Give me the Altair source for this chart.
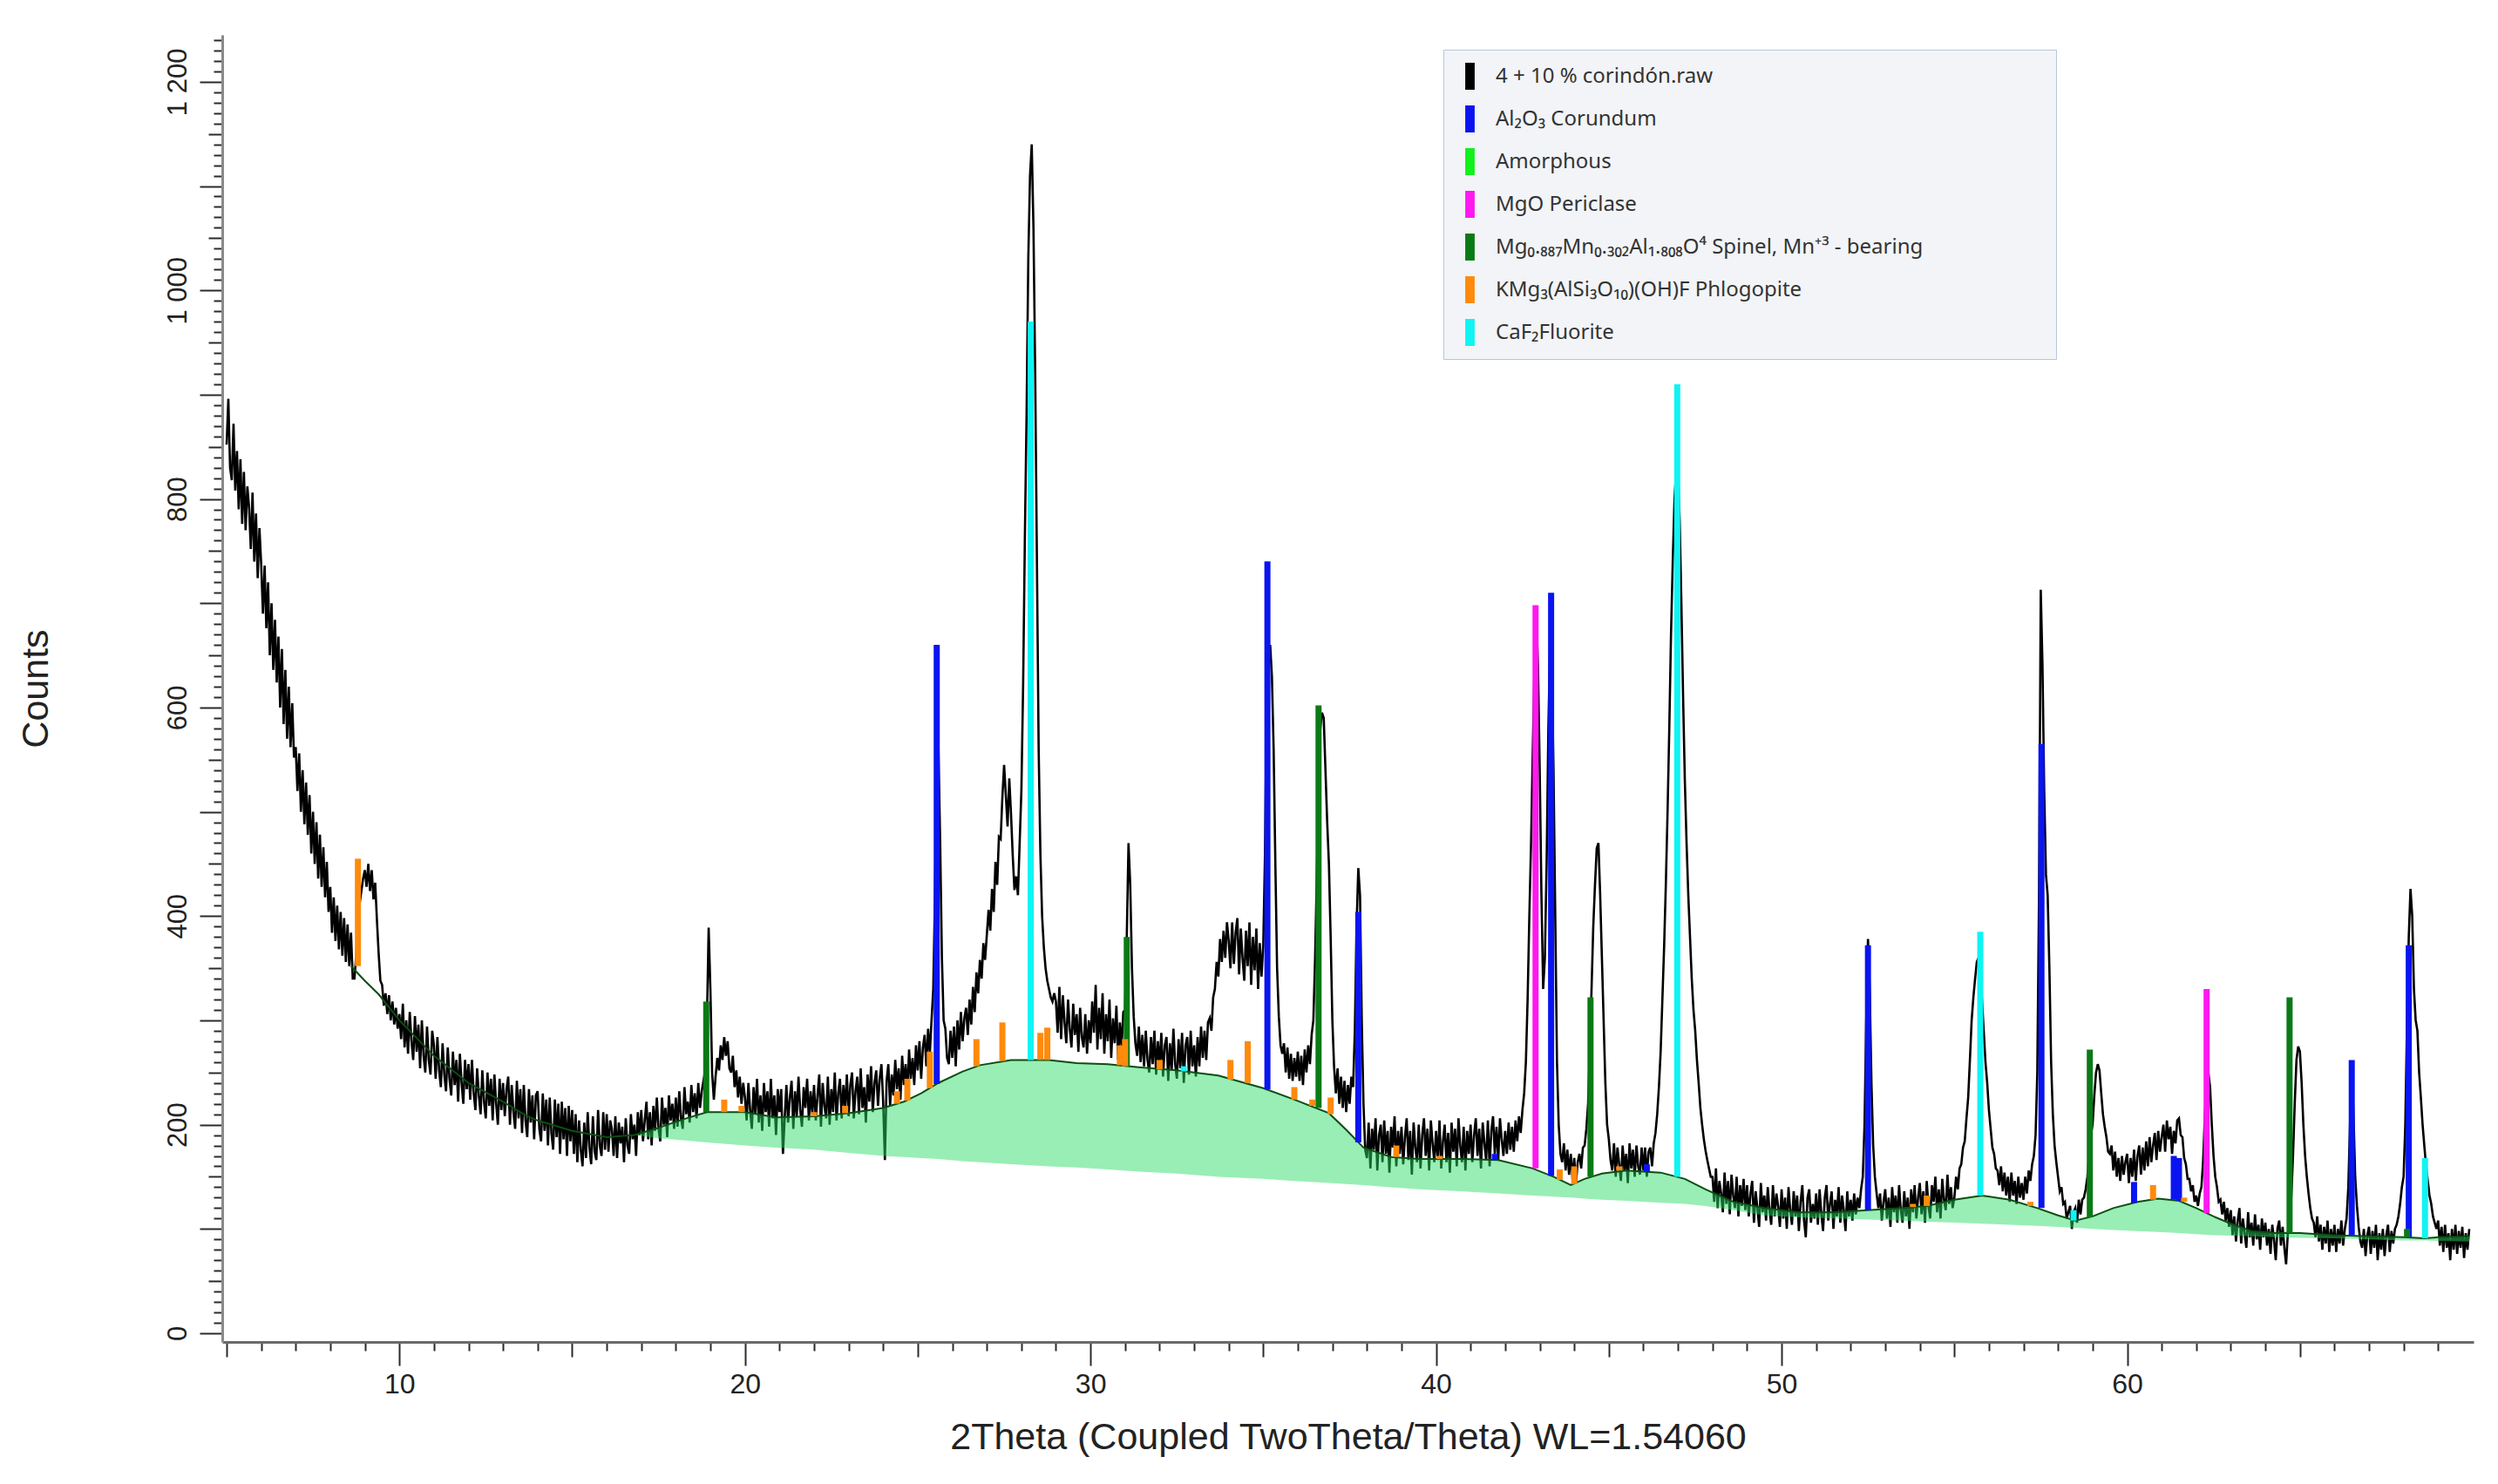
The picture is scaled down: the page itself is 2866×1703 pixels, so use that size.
import altair as alt
import pandas as pd

# ---------------- data ----------------
TT_STEP = 0.05      # scan step (degrees)

# raw counts: one row per degree, values at deg+0.00, +0.05, ... +0.95
raw_rows = {
    5: [852, 896, 830, 818, 872, 808, 846, 790, 838, 776, 826, 770, 812, 792, 752, 806, 740, 786, 724, 772],
    6: [738, 690, 736, 676, 720, 650, 700, 636, 684, 624, 668, 600, 656, 584, 636, 570, 620, 562, 604, 552],
    7: [562, 520, 556, 500, 540, 488, 528, 478, 516, 460, 500, 450, 490, 436, 478, 428, 466, 418, 452, 404],
    8: [428, 384, 418, 376, 410, 368, 404, 362, 398, 356, 392, 352, 384, 340, 340, 362, 394, 412, 424, 436],
    9: [444, 428, 450, 424, 444, 416, 432, 396, 364, 338, 334, 314, 326, 306, 324, 300, 318, 296, 312, 292],
    10: [306, 282, 316, 274, 300, 268, 308, 280, 262, 304, 270, 296, 254, 300, 266, 250, 294, 262, 248, 290],
    11: [276, 244, 284, 252, 236, 278, 248, 232, 274, 244, 228, 270, 238, 262, 222, 268, 240, 220, 262, 234],
    12: [258, 224, 262, 230, 214, 254, 228, 210, 252, 222, 206, 250, 218, 244, 204, 248, 220, 200, 244, 214],
    13: [240, 208, 234, 246, 200, 238, 212, 196, 242, 206, 234, 192, 238, 204, 188, 234, 202, 228, 186, 228],
    14: [232, 196, 184, 230, 194, 224, 180, 226, 192, 176, 224, 188, 220, 172, 222, 186, 216, 170, 218, 184],
    15: [214, 172, 210, 164, 204, 176, 160, 202, 168, 212, 178, 162, 208, 174, 166, 214, 180, 170, 212, 176],
    16: [210, 174, 204, 196, 170, 208, 168, 202, 182, 198, 164, 206, 180, 172, 210, 186, 200, 170, 212, 190],
    17: [214, 184, 204, 222, 186, 212, 180, 218, 194, 226, 196, 184, 226, 200, 216, 188, 228, 204, 220, 196],
    18: [226, 198, 232, 206, 196, 236, 210, 222, 202, 238, 212, 230, 206, 240, 216, 232, 242, 252, 300, 389],
    19: [330, 250, 224, 246, 264, 252, 276, 262, 284, 266, 280, 254, 250, 266, 236, 252, 226, 246, 220, 240],
    20: [226, 204, 240, 214, 196, 236, 210, 244, 202, 228, 194, 240, 212, 232, 198, 244, 206, 228, 190, 234],
    21: [212, 234, 172, 206, 238, 202, 226, 242, 196, 232, 208, 246, 214, 198, 236, 216, 244, 204, 232, 210],
    22: [238, 204, 228, 248, 198, 240, 218, 206, 246, 200, 234, 212, 250, 204, 230, 244, 206, 238, 216, 248],
    23: [208, 238, 250, 206, 232, 246, 210, 254, 216, 236, 202, 248, 222, 256, 212, 240, 252, 218, 244, 258],
    24: [222, 166, 242, 258, 218, 248, 228, 262, 234, 254, 224, 266, 238, 258, 230, 272, 244, 264, 238, 276],
    25: [252, 280, 244, 274, 286, 256, 292, 268, 300, 330, 420, 530, 560, 470, 360, 300, 292, 264, 258, 290],
    26: [264, 294, 256, 300, 272, 308, 280, 302, 312, 286, 320, 296, 332, 308, 346, 326, 358, 340, 374, 358],
    27: [382, 406, 386, 426, 404, 452, 430, 476, 474, 514, 545, 516, 486, 532, 498, 458, 425, 438, 420, 470],
    28: [520, 620, 760, 880, 1030, 1110, 1140, 1060, 920, 740, 560, 460, 400, 370, 350, 338, 330, 322, 318, 326],
    29: [318, 288, 332, 282, 324, 298, 278, 320, 292, 274, 316, 286, 306, 270, 312, 284, 274, 306, 268, 300],
    30: [278, 318, 288, 334, 272, 312, 282, 326, 268, 306, 280, 320, 264, 302, 278, 314, 262, 298, 274, 308],
    31: [310, 380, 470, 430, 350, 304, 278, 266, 294, 260, 286, 256, 290, 262, 250, 284, 258, 290, 248, 280],
    32: [256, 288, 246, 276, 284, 242, 278, 252, 292, 258, 244, 282, 254, 288, 240, 276, 284, 248, 290, 256],
    33: [276, 246, 284, 256, 294, 264, 290, 262, 298, 302, 290, 322, 330, 356, 342, 378, 356, 386, 360, 394],
    34: [376, 350, 394, 354, 384, 398, 344, 388, 360, 338, 386, 352, 394, 334, 380, 348, 388, 330, 374, 342],
    35: [372, 460, 610, 640, 660, 630, 560, 450, 350, 304, 276, 268, 278, 250, 274, 244, 268, 242, 264, 246],
    36: [270, 242, 266, 238, 272, 250, 276, 258, 286, 300, 360, 440, 520, 580, 595, 590, 540, 490, 450, 380],
    37: [300, 255, 230, 254, 220, 246, 216, 242, 212, 238, 220, 246, 236, 290, 390, 446, 420, 300, 220, 176],
    38: [168, 202, 158, 196, 176, 206, 156, 190, 200, 164, 204, 172, 194, 154, 198, 178, 208, 160, 194, 172],
    39: [198, 162, 188, 206, 166, 194, 152, 202, 178, 164, 200, 158, 190, 206, 170, 196, 156, 204, 182, 164],
    40: [194, 166, 204, 158, 184, 200, 164, 192, 154, 202, 174, 196, 160, 206, 180, 164, 198, 156, 194, 172],
    41: [200, 164, 190, 206, 170, 196, 158, 202, 182, 166, 204, 160, 194, 208, 172, 198, 166, 206, 186, 170],
    42: [194, 172, 202, 176, 198, 174, 204, 184, 208, 192, 214, 230, 260, 320, 400, 470, 560, 640, 690, 640],
    43: [540, 420, 330, 360, 450, 580, 660, 630, 540, 400, 260, 200, 172, 164, 182, 156, 176, 152, 172, 148],
    44: [168, 144, 164, 172, 158, 178, 180, 196, 220, 270, 330, 390, 430, 465, 470, 420, 360, 300, 240, 200],
    45: [186, 166, 156, 182, 150, 178, 162, 146, 180, 156, 172, 144, 182, 158, 176, 150, 180, 160, 152, 178],
    46: [156, 178, 150, 174, 178, 160, 182, 192, 210, 236, 270, 320, 370, 430, 500, 580, 670, 740, 800, 826],
    47: [830, 780, 700, 610, 530, 470, 420, 380, 340, 310, 290, 262, 240, 216, 200, 186, 175, 166, 158, 150],
    48: [150, 126, 158, 120, 146, 134, 116, 154, 124, 146, 114, 152, 132, 120, 150, 112, 142, 122, 148, 118],
    49: [142, 112, 134, 146, 106, 136, 120, 102, 144, 116, 132, 108, 140, 118, 104, 142, 112, 134, 122, 102],
    50: [138, 110, 130, 100, 140, 118, 104, 136, 112, 132, 98, 126, 142, 108, 92, 130, 138, 106, 124, 110],
    51: [134, 104, 138, 114, 98, 130, 142, 108, 124, 136, 100, 128, 112, 140, 106, 132, 118, 98, 136, 112],
    52: [128, 108, 134, 114, 130, 120, 138, 150, 200, 300, 378, 330, 240, 180, 150, 134, 120, 134, 108, 126],
    53: [138, 110, 130, 102, 140, 116, 132, 106, 142, 118, 106, 136, 112, 130, 100, 138, 116, 142, 110, 130],
    54: [144, 114, 136, 106, 146, 122, 110, 142, 126, 150, 116, 138, 110, 148, 128, 118, 152, 124, 140, 120],
    55: [130, 150, 138, 158, 162, 178, 184, 206, 226, 262, 300, 322, 340, 356, 360, 352, 320, 290, 260, 240],
    56: [214, 196, 178, 172, 158, 156, 142, 160, 136, 154, 132, 150, 126, 154, 132, 146, 124, 150, 130, 144],
    57: [128, 150, 134, 156, 146, 162, 170, 190, 250, 420, 713, 640, 520, 440, 420, 350, 260, 210, 180, 164],
    58: [150, 136, 140, 124, 126, 110, 116, 122, 100, 116, 120, 106, 128, 114, 128, 130, 138, 150, 170, 190],
    59: [200, 228, 250, 258, 252, 230, 210, 198, 188, 174, 172, 180, 156, 174, 150, 168, 146, 170, 152, 164],
    60: [172, 144, 168, 150, 176, 146, 170, 180, 152, 178, 156, 184, 160, 188, 164, 180, 192, 166, 194, 174],
    61: [188, 200, 174, 204, 186, 198, 172, 194, 182, 204, 206, 190, 188, 168, 162, 148, 148, 136, 142, 126],
    62: [132, 122, 134, 140, 166, 210, 240, 250, 236, 200, 170, 150, 140, 126, 128, 114, 126, 108, 120, 102],
    63: [118, 94, 112, 88, 108, 120, 86, 110, 96, 82, 116, 92, 106, 84, 114, 90, 104, 80, 110, 92],
    64: [106, 84, 100, 76, 104, 90, 70, 100, 108, 84, 102, 82, 66, 96, 106, 130, 170, 220, 262, 275],
    65: [270, 240, 200, 170, 150, 134, 120, 110, 106, 92, 112, 88, 104, 80, 102, 86, 108, 78, 100, 84],
    66: [104, 78, 100, 86, 108, 84, 100, 110, 140, 200, 260, 210, 150, 122, 102, 88, 82, 100, 74, 94],
    67: [102, 76, 98, 82, 104, 70, 96, 80, 100, 74, 94, 104, 78, 98, 86, 100, 104, 112, 124, 140],
    68: [150, 200, 300, 380, 426, 400, 330, 300, 290, 250, 226, 200, 180, 160, 146, 132, 124, 112, 106, 100],
    69: [108, 84, 102, 78, 104, 82, 96, 70, 100, 80, 104, 76, 98, 82, 102, 72, 96, 80, 100],
}
two_theta, raw_counts = [], []
for deg, vals in raw_rows.items():
    for j, v in enumerate(vals):
        two_theta.append(round(deg + TT_STEP * j, 2))
        raw_counts.append(v)

# background line before the amorphous hump
bg_pre_theta = [8.6, 9.0, 9.4, 10.0, 11.0, 12.0, 13.0, 13.65, 14.0, 15.0, 16.0]
bg_pre_counts = [352, 338, 325, 300, 266, 240, 222, 209, 204, 194, 188]

# amorphous contribution (upper = total background, lower = base line)
amor_theta = [16.8, 17.5, 18.2, 18.9, 20.0, 20.9, 22.0, 23.0, 24.0, 24.6, 25.1, 25.6,
              26.3, 26.8, 27.7, 28.8, 29.6, 30.5, 31.4, 32.5, 33.7, 35.0, 35.9, 36.9,
              37.4, 37.9, 38.7, 39.5, 40.8, 41.8, 42.8, 43.4, 43.9, 44.3, 44.8, 45.5,
              46.5, 47.2, 47.8, 48.6, 49.5, 50.5, 51.5, 52.5, 53.5, 54.2, 55.0, 55.8,
              56.6, 57.4, 58.0, 58.5, 59.0, 59.6, 60.3, 60.9, 61.5, 62.0, 62.5, 63.0,
              63.6, 64.3, 65.0, 66.0, 67.0, 68.0, 68.6, 69.0, 69.9]
amor_top = [190, 197, 205, 212, 212, 207, 208, 211, 216, 222, 230, 240,
            251, 257, 262, 262, 259, 258, 255, 252, 247, 235, 224, 211,
            195, 178, 169, 167, 167, 166, 158, 150, 142, 148, 153, 156,
            154, 148, 138, 126, 120, 116, 116, 118, 120, 122, 128, 132,
            128, 120, 113, 108, 112, 120, 126, 129, 127, 120, 112, 105,
            98, 96, 96, 94, 93, 92, 91, 92, 93]
amor_bottom = [190, 187, 185, 183, 180, 178, 176, 173, 170, 169, 168, 167,
               165, 164, 162, 160, 159, 157, 155, 153, 150, 148, 146, 144,
               143, 142, 140, 138, 136, 134, 132, 131, 130, 129, 128, 127,
               125, 124, 122, 118, 113, 111, 110, 109, 108, 107, 106, 105,
               104, 103, 102, 101, 100, 99, 98, 97, 96, 95, 94, 93.5,
               93, 92, 91.5, 91, 90, 89, 89, 88.5, 88]

LBL_RAW = "4 + 10 % corindón.raw"
LBL_COR = "Al₂O₃ Corundum"
LBL_AMO = "Amorphous"
LBL_PER = "MgO Periclase"
LBL_SPI = "Mg₀.₈₈₇Mn₀.₃₀₂Al₁.₈₀₈O⁴ Spinel, Mn⁺³ - bearing"
LBL_PHL = "KMg₃(AlSi₃O₁₀)(OH)F Phlogopite"
LBL_FLU = "CaF₂Fluorite"
legend_labels = [LBL_RAW, LBL_COR, LBL_AMO, LBL_PER, LBL_SPI, LBL_PHL, LBL_FLU]
legend_colors = ["#000000", "#0a14f0", "#12f01e", "#ff18f0", "#0a7a16", "#ff8a0c", "#10f4f4"]

# stick patterns: position, background level, top
cor_theta = [25.55, 35.12, 37.75, 41.7, 43.33, 46.1, 52.5, 57.52, 60.2, 61.35, 61.5, 66.5, 68.15]
cor_base = [239, 234, 183, 166, 151, 155, 118, 120, 125, 128, 127, 94, 92]
cor_top = [660, 740, 404, 172, 710, 162, 372, 565, 145, 170, 168, 262, 372]

flu_theta = [28.27, 32.7, 46.98, 55.75, 58.45, 68.62]
flu_base = [262, 251, 150, 132, 108, 91]
flu_top = [970, 256, 910, 385, 118, 168]

per_theta = [42.88, 62.3]
per_base = [158, 115]
per_top = [698, 330]

spi_theta = [18.88, 31.05, 36.6, 44.47, 58.92, 64.7, 68.1]
spi_base = [212, 256, 216, 150, 111, 96, 92]
spi_top = [318, 380, 602, 322, 272, 322, 100]

phl_theta = [8.8, 19.4, 19.9, 22.0, 22.9, 24.4, 24.7, 25.35, 26.7, 27.45, 28.55, 28.75,
             30.85, 31.0, 32.0, 34.05, 34.55, 35.9, 36.42, 36.95, 38.85, 40.1, 43.58,
             44.0, 45.3, 53.8, 54.2, 57.2, 60.75, 61.65]
phl_base = [352, 212, 212, 208, 211, 220, 223, 235, 256, 261, 262, 262,
            257, 256, 253, 243, 240, 224, 218, 210, 169, 167, 147,
            143, 156, 121, 122, 122, 128, 126]
phl_top = [455, 224, 218, 212, 218, 232, 244, 270, 282, 298, 288, 293,
           276, 282, 262, 262, 280, 236, 224, 226, 180, 170, 157,
           160, 160, 124, 132, 126, 142, 130]

# ---------------- tables ----------------
raw_df = pd.DataFrame({"tt": two_theta, "counts": raw_counts})
amor_df = pd.DataFrame({"tt": amor_theta, "counts": amor_top, "counts2": amor_bottom})
bg_df = pd.DataFrame({"tt": bg_pre_theta + amor_theta, "counts": bg_pre_counts + amor_top})

rows = []
for lbl, xs, bs, ts in [(LBL_COR, cor_theta, cor_base, cor_top),
                        (LBL_FLU, flu_theta, flu_base, flu_top),
                        (LBL_PER, per_theta, per_base, per_top),
                        (LBL_SPI, spi_theta, spi_base, spi_top),
                        (LBL_PHL, phl_theta, phl_base, phl_top)]:
    for xv, bv, tv in zip(xs, bs, ts):
        rows.append({"tt": xv, "counts": bv, "counts2": tv, "phase": lbl})
stick_df = pd.DataFrame(rows)

# ---------------- scales / axes ----------------
FONT = "Liberation Sans"
x_scale = alt.Scale(domain=[5, 69.9], nice=False, zero=False)
y_scale = alt.Scale(domain=[-8.4, 1245], nice=False, zero=False)

x_axis = alt.Axis(
    title="2Theta (Coupled TwoTheta/Theta) WL=1.54060",
    values=list(range(5, 70)),
    labelExpr="datum.value % 10 === 0 ? datum.label : ''",
    labelOverlap=False,
    labelFlush=False,
    grid=False,
    tickSize={"condition": [{"test": "datum.value % 10 === 0", "value": 27},
                            {"test": "datum.value % 5 === 0", "value": 17}],
              "value": 10},
    tickColor="#2a2a2a", tickWidth=2,
    domainColor="#6a6a6a", domainWidth=3,
    labelFont=FONT, labelFontSize=32, labelColor="#222222", labelPadding=6,
    titleFont=FONT, titleFontSize=43, titleFontWeight="normal", titleColor="#222222",
    titlePadding=24,
)
y_axis = alt.Axis(
    title="Counts",
    values=list(range(0, 1250, 10)),
    labelExpr="datum.value % 200 === 0 ? replace(format(datum.value, ','), ',', ' ') : ''",
    labelOverlap=False,
    labelFlush=False,
    grid=False,
    tickSize={"condition": [{"test": "datum.value % 100 === 0", "value": 26},
                            {"test": "datum.value % 50 === 0", "value": 16}],
              "value": 10},
    tickColor="#2a2a2a", tickWidth=2,
    domainColor="#8a8a8a", domainWidth=3,
    labelAngle=270, labelAlign="center", labelBaseline="bottom",
    labelFont=FONT, labelFontSize=31, labelColor="#222222", labelPadding=9,
    titleFont=FONT, titleFontSize=43, titleFontWeight="normal", titleColor="#222222",
    titlePadding=125,
)

X = alt.X("tt:Q", scale=x_scale, axis=x_axis)
Y = alt.Y("counts:Q", scale=y_scale, axis=y_axis)

raw_line = alt.Chart(raw_df).mark_line(color="black", strokeWidth=2.6).encode(x=X, y=Y)

amor_area = alt.Chart(amor_df).mark_area(color="#28dc64", opacity=0.48).encode(
    x=X, y=Y, y2="counts2:Q")

bg_line = alt.Chart(bg_df).mark_line(color="#0d4d12", strokeWidth=2).encode(x=X, y=Y)

sticks = alt.Chart(stick_df).mark_bar(width=7).encode(
    x=X, y=Y, y2="counts2:Q",
    color=alt.Color(
        "phase:N",
        scale=alt.Scale(domain=legend_labels, range=legend_colors),
        legend=alt.Legend(
            # an invisible one-character title on the right widens the box
            title=".", titleOrient="right", titleColor="#f2f4f7", titleFontSize=4,
            titlePadding=136,
            orient="none", legendX=1401, legendY=17,
            fillColor="#f2f4f7", strokeColor="#b9c6d8", padding=15,
            symbolType="M-0.35,-1H0.35V1H-0.35Z", symbolSize=961, symbolStrokeWidth=0,
            labelFont="Noto Sans", labelFontSize=24, labelColor="#333333",
            labelLimit=2000, labelOffset=14, rowPadding=18,
        ),
    ),
)

chart = alt.layer(raw_line, amor_area, bg_line, sticks).properties(
    width=2583, height=1500,
    padding={"left": 247, "top": 32, "right": 20, "bottom": 150},
    autosize=alt.AutoSizeParams(type="none"),
    background="white",
).configure_view(stroke=None)

chart.save("out.html", embed_options={"renderer": "svg", "actions": False})
